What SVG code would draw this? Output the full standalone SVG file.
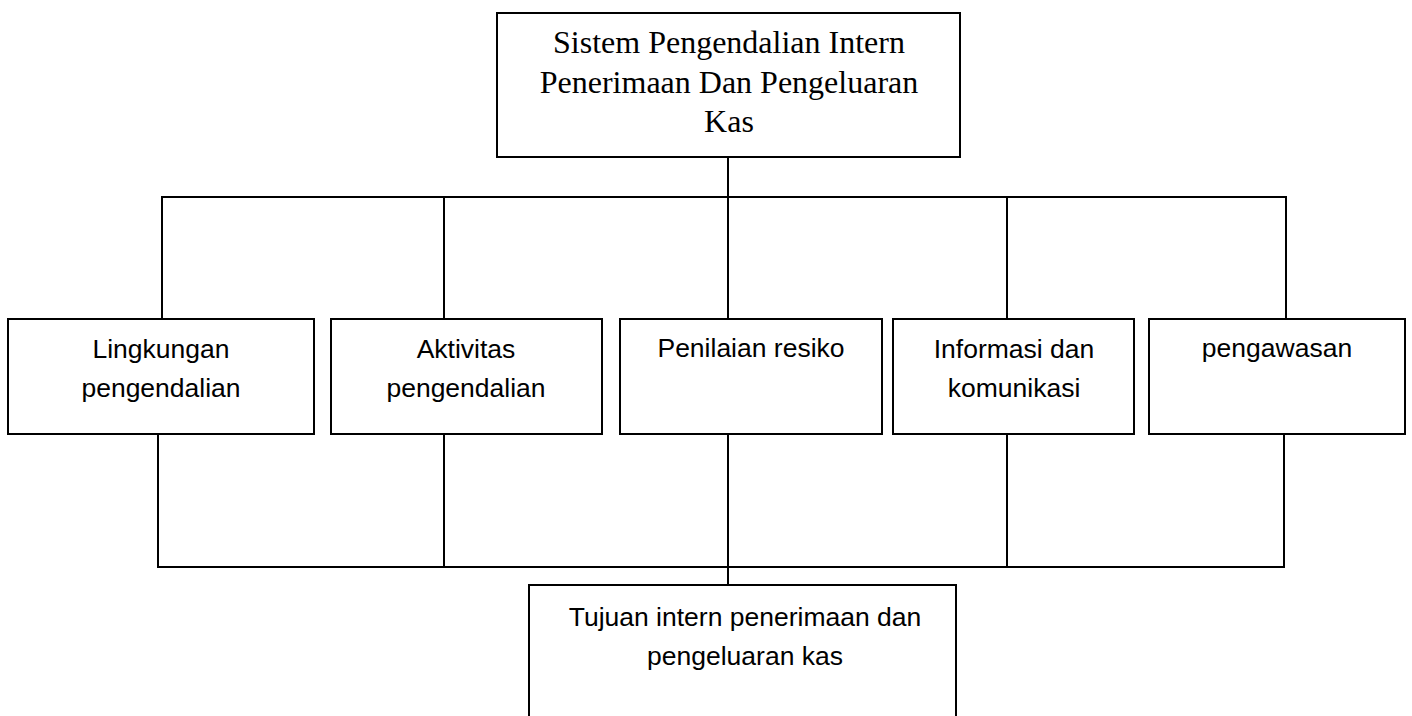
<svg xmlns="http://www.w3.org/2000/svg" width="1412" height="716" viewBox="0 0 1412 716">
<style>
rect{fill:#fff;stroke:#000;stroke-width:2}
.c line{stroke:#000;stroke-width:2}
.serif{font-family:"Liberation Serif","Times New Roman",serif;font-size:32px;fill:#000;text-anchor:middle}
.sans{font-family:"Liberation Sans",Arial,sans-serif;font-size:26.5px;fill:#000;text-anchor:middle}
</style>
<rect width="1412" height="716" style="fill:#fff;stroke:none"/>
<g class="c" id="connectors">
<line x1="728" y1="157" x2="728" y2="319"/>
<line x1="161" y1="197" x2="1287" y2="197"/>
<line x1="162" y1="197" x2="162" y2="319"/>
<line x1="444" y1="197" x2="444" y2="319"/>
<line x1="1007" y1="197" x2="1007" y2="319"/>
<line x1="1286" y1="197" x2="1286" y2="319"/>
<line x1="158" y1="434" x2="158" y2="567"/>
<line x1="444" y1="434" x2="444" y2="567"/>
<line x1="728" y1="434" x2="728" y2="585"/>
<line x1="1007" y1="434" x2="1007" y2="567"/>
<line x1="1284" y1="434" x2="1284" y2="567"/>
<line x1="157" y1="567" x2="1285" y2="567"/>
</g>
<g id="top">
<rect x="497" y="13" width="463" height="144"/>
<text class="serif" x="729" y="53">Sistem Pengendalian Intern</text>
<text class="serif" x="729" y="92.5">Penerimaan Dan Pengeluaran</text>
<text class="serif" x="729" y="132">Kas</text>
</g>
<g id="lingkungan">
<rect x="8" y="319" width="306" height="115"/>
<text class="sans" x="161" y="358">Lingkungan</text>
<text class="sans" x="161" y="397">pengendalian</text>
</g>
<g id="aktivitas">
<rect x="331" y="319" width="271" height="115"/>
<text class="sans" x="466" y="358">Aktivitas</text>
<text class="sans" x="466" y="397">pengendalian</text>
</g>
<g id="penilaian">
<rect x="620" y="319" width="262" height="115"/>
<text class="sans" x="751" y="357">Penilaian resiko</text>
</g>
<g id="informasi">
<rect x="893" y="319" width="241" height="115"/>
<text class="sans" x="1014" y="358">Informasi dan</text>
<text class="sans" x="1014" y="397">komunikasi</text>
</g>
<g id="pengawasan">
<rect x="1149" y="319" width="256" height="115"/>
<text class="sans" x="1277" y="357">pengawasan</text>
</g>
<g id="tujuan">
<rect x="529" y="585" width="427" height="140"/>
<text class="sans" x="745" y="626">Tujuan intern penerimaan dan</text>
<text class="sans" x="745" y="665">pengeluaran kas</text>
</g>
</svg>
